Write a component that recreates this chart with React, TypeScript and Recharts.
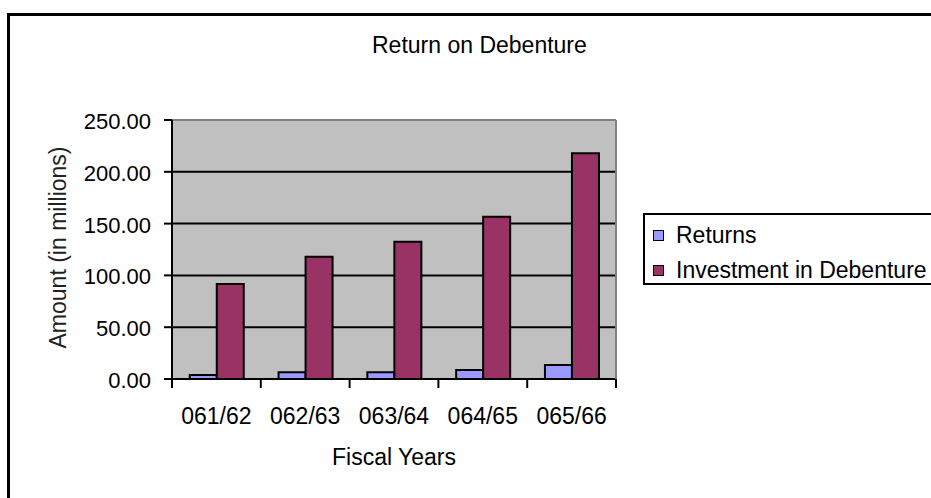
import React from 'react';
import { BarChart, Bar, XAxis, YAxis, CartesianGrid, ReferenceLine } from 'recharts';

const years = ['061/62', '062/63', '063/64', '064/65', '065/66'];
const returnsValues = [3.9, 6.5, 6.5, 8.7, 13.5];
const investmentValues = [91.7, 118.1, 132.5, 156.7, 217.9];
const yTicks = [0, 50, 100, 150, 200, 250];
const gridValues = [50, 100, 150, 200];
const seriesNames = ['Returns', 'Investment in Debenture'];
const seriesKeys = ['returns', 'investment'];
const seriesColors = ['#9999FF', '#993366'];
const chartTitle = 'Return on Debenture';
const xTitle = 'Fiscal Years';
const yTitle = 'Amount (in millions)';

const data = years.map((year, i) => ({
  year,
  returns: returnsValues[i],
  investment: investmentValues[i],
}));

const FONT = '"Liberation Sans", Arial, Helvetica, sans-serif';
const X_TICK_SIZE = 9;
const X_TICK_MARGIN = 20;

const XTick = (props: any) => {
  const { x, y, payload, index, visibleTicksCount } = props;
  const half = payload && typeof payload.offset === 'number' ? payload.offset : 0;
  const axisY = y - X_TICK_SIZE - X_TICK_MARGIN;
  const isLast = index === visibleTicksCount - 1;
  return (
    <g>
      {half > 0 && (
        <line x1={x - half} x2={x - half} y1={axisY} y2={axisY + X_TICK_SIZE} stroke="#000" strokeWidth={2} />
      )}
      {half > 0 && isLast && (
        <line x1={x + half} x2={x + half} y1={axisY} y2={axisY + X_TICK_SIZE} stroke="#000" strokeWidth={2} />
      )}
      <text x={x} y={y} dy={16} textAnchor="middle" fontSize={23} fontFamily={FONT} fill="#000">
        {payload.value}
      </text>
    </g>
  );
};

const YTick = (props: any) => {
  const { x, y, payload } = props;
  return (
    <text x={x} y={y} dy={9} textAnchor="end" fontSize={22} fontFamily={FONT} fill="#000">
      {Number(payload.value).toFixed(2)}
    </text>
  );
};

const XLabel = (props: any) => {
  const vb = props.viewBox || {};
  const cx = vb.x + vb.width / 2;
  const cy = vb.y + 86;
  return (
    <text x={cx} y={cy} textAnchor="middle" fontSize={23} fontFamily={FONT} fill="#000">
      {xTitle}
    </text>
  );
};

const YLabel = (props: any) => {
  const vb = props.viewBox || {};
  const cx = vb.x + 58;
  const cy = vb.y + vb.height / 2 - 2;
  return (
    <text
      x={cx}
      y={cy}
      textAnchor="middle"
      dominantBaseline="central"
      fontSize={23}
      fontFamily={FONT}
      fill="#222"
      transform={`rotate(-90 ${cx} ${cy})`}
    >
      {yTitle}
    </text>
  );
};

export default function App() {
  return (
    <div
      style={{
        position: 'fixed',
        left: 0,
        top: 0,
        width: 931,
        height: 498,
        overflow: 'hidden',
        background: '#fff',
        fontFamily: FONT,
      }}
    >
      <div
        style={{
          position: 'absolute',
          left: 7,
          top: 13,
          width: 1000,
          height: 600,
          border: '3px solid #000',
          boxSizing: 'border-box',
        }}
      />
      <div
        style={{
          position: 'absolute',
          left: 372,
          top: 32,
          fontSize: 23,
          lineHeight: '26px',
          color: '#000',
          whiteSpace: 'nowrap',
        }}
      >
        {chartTitle}
      </div>
      <div style={{ position: 'absolute', left: 0, top: 0 }}>
        <BarChart
          width={931}
          height={498}
          data={data}
          margin={{ top: 120, right: 314, left: 0, bottom: 0 }}
          barCategoryGap="20%"
          barGap={0}
        >
          <CartesianGrid
            vertical={false}
            horizontalValues={gridValues}
            stroke="#000"
            strokeWidth={2}
            fill="#C0C0C0"
            fillOpacity={1}
          />
          <XAxis
            dataKey="year"
            interval={0}
            tickLine={false}
            axisLine={{ stroke: '#000', strokeWidth: 2 }}
            tickSize={X_TICK_SIZE}
            tickMargin={X_TICK_MARGIN}
            height={119}
            tick={XTick}
            label={XLabel}
          />
          <YAxis
            domain={[0, 250]}
            ticks={yTicks}
            width={172}
            tickSize={8}
            tickMargin={13}
            axisLine={{ stroke: '#000', strokeWidth: 2 }}
            tickLine={{ stroke: '#000', strokeWidth: 2 }}
            tick={YTick}
            label={YLabel}
          />
          <YAxis
            yAxisId="right"
            orientation="right"
            domain={[0, 250]}
            ticks={yTicks}
            width={1}
            tick={false}
            tickLine={false}
            axisLine={{ stroke: '#808080', strokeWidth: 2 }}
          />
          <ReferenceLine y={250} stroke="#808080" strokeWidth={2} />
          {seriesKeys.map((k, i) => (
            <Bar
              key={k}
              dataKey={k}
              name={seriesNames[i]}
              fill={seriesColors[i]}
              stroke="#000"
              strokeWidth={2}
              isAnimationActive={false}
            />
          ))}
        </BarChart>
      </div>
      <div
        style={{
          position: 'absolute',
          left: 643,
          top: 213,
          width: 320,
          height: 72,
          border: '2px solid #000',
          boxSizing: 'border-box',
          background: '#fff',
        }}
      >
        {seriesNames.map((n, i) => (
          <div
            key={n}
            style={{
              position: 'absolute',
              left: 8,
              top: (i === 0 ? 22 : 57) - 13 - 2,
              height: 26,
              display: 'flex',
              alignItems: 'center',
              whiteSpace: 'nowrap',
              fontSize: 23,
              color: '#000',
            }}
          >
            <span
              style={{
                display: 'inline-block',
                width: 9,
                height: 9,
                background: seriesColors[i],
                border: '1.5px solid #000',
                marginRight: 12,
              }}
            />
            <span>{n}</span>
          </div>
        ))}
      </div>
    </div>
  );
}
